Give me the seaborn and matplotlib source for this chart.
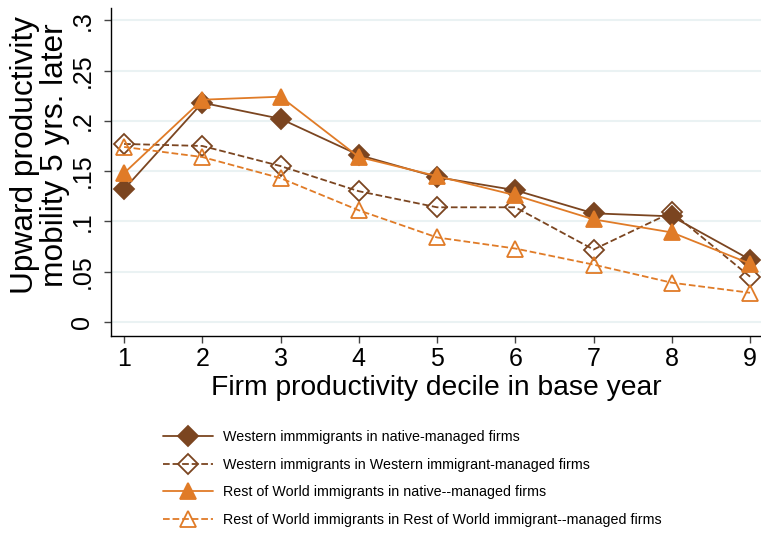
import pandas as pd
import seaborn as sns
import matplotlib.pyplot as plt

# values
deciles = [1, 2, 3, 4, 5, 6, 7, 8, 9]
west_native = [0.132, 0.218, 0.202, 0.166, 0.144, 0.131, 0.108, 0.105, 0.062]
west_west = [0.177, 0.175, 0.155, 0.130, 0.114, 0.114, 0.072, 0.109, 0.045]
row_native = [0.148, 0.221, 0.224, 0.164, 0.145, 0.126, 0.102, 0.089, 0.058]
row_row = [0.174, 0.164, 0.143, 0.111, 0.084, 0.073, 0.057, 0.039, 0.029]

labels = ['Western immmigrants in native-managed firms',
          'Western immigrants in Western immigrant-managed firms',
          'Rest of World immigrants in native--managed firms',
          'Rest of World immigrants in Rest of World immigrant--managed firms']

y_ticks = [0, 0.05, 0.1, 0.15, 0.2, 0.25, 0.3]
y_tick_labels = ['0', '.05', '.1', '.15', '.2', '.25', '.3']

brown = '#7B4520'
orange = '#E07B27'

sns.set_theme(style='white')
plt.rcParams['font.family'] = ['Liberation Sans', 'DejaVu Sans']
plt.rcParams['text.color'] = 'black'
plt.rcParams['axes.labelcolor'] = 'black'
plt.rcParams['xtick.color'] = 'black'
plt.rcParams['ytick.color'] = 'black'

fig = plt.figure(figsize=(7.61, 5.33), dpi=100)
ax = fig.add_axes([0.146, 0.3696, 0.854, 0.615])

series = [
    (west_native, brown, '-', 'D', brown, 10),
    (west_west, brown, '--', 'D', 'none', 10),
    (row_native, orange, '-', '^', orange, 12),
    (row_row, orange, '--', '^', 'none', 12),
]

for (vals, col, ls, mk, mfc, ms), lab in zip(series, labels):
    df = pd.DataFrame({'decile': deciles, 'value': vals})
    sns.lineplot(data=df, x='decile', y='value', ax=ax, color=col,
                 linestyle=ls, marker=mk, markersize=ms,
                 markerfacecolor=mfc, markeredgecolor=col,
                 markeredgewidth=1.3, linewidth=1.3, label=lab,
                 dashes=(6, 4) if ls == '--' else None)

ax.set_xlim(0.834, 9.14)
ax.set_ylim(-0.014, 0.312)
ax.set_xticks(deciles)
ax.set_yticks(y_ticks)
ax.set_yticklabels(y_tick_labels, rotation=90, va='center')
ax.tick_params(axis='both', labelsize=18, length=5, width=1,
               color='#444444', direction='out', left=True, bottom=True, pad=3)
ax.tick_params(axis='y', pad=7)
ax.yaxis.grid(True, color='#EAF2F3', linewidth=1.5)
ax.xaxis.grid(False)
ax.set_axisbelow(True)

for s in ['top', 'right']:
    ax.spines[s].set_visible(False)
for s in ['left', 'bottom']:
    ax.spines[s].set_color('black')
    ax.spines[s].set_linewidth(1)

ax.set_xlabel('Firm productivity decile in base year', fontsize=20.3, labelpad=3)
ax.set_ylabel('Upward productivity\nmobility 5 yrs. later', fontsize=22.8,
              linespacing=1.0)
ax.yaxis.set_label_coords(-0.064, 0.552)

ax.legend_.remove()
handles, labs = ax.get_legend_handles_labels()
fig.legend(handles, labs, loc='upper left', bbox_to_anchor=(0.214, 0.193),
           frameon=False, fontsize=10.3, handlelength=3.5, handletextpad=0.7,
           labelspacing=0.95, borderpad=0, borderaxespad=0)

fig.savefig('out.png', dpi=100)
